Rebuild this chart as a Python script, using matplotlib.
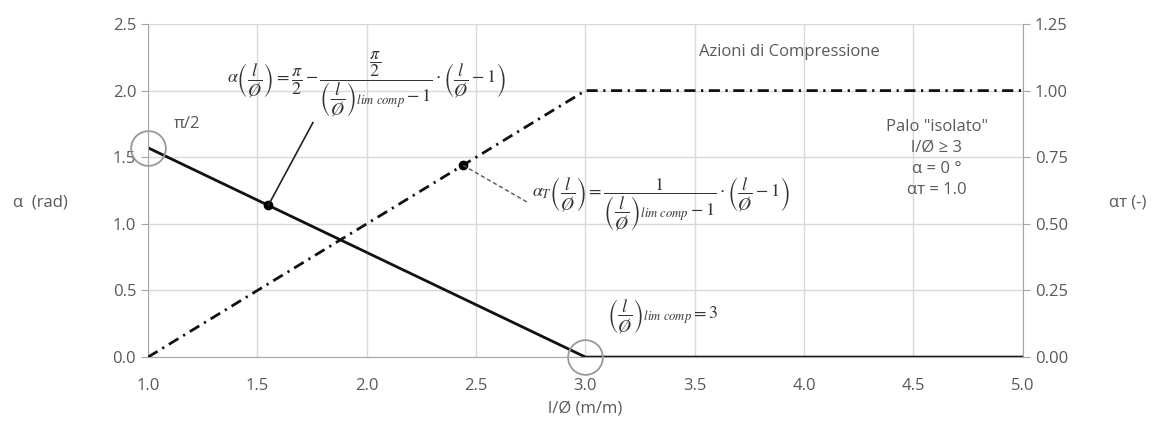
import numpy as np
import matplotlib
matplotlib.use('Agg')
import matplotlib.pyplot as plt

plt.rcParams['font.family'] = ['Open Sans', 'DejaVu Sans']
plt.rcParams['mathtext.fontset'] = 'stix'

# data
x_alpha = [1.0, 3.0, 5.0]
alpha = [np.pi / 2, 0.0, 0.0]
x_alpha_t = [1.0, 3.0, 5.0]
alpha_t = [0.0, 1.0, 1.0]
x_ticks = [1.0, 1.5, 2.0, 2.5, 3.0, 3.5, 4.0, 4.5, 5.0]
y_ticks = [0.0, 0.5, 1.0, 1.5, 2.0, 2.5]
y2_ticks = [0.0, 0.25, 0.5, 0.75, 1.0, 1.25]
pt_alpha = (1.55, np.pi / 2 - np.pi / 4 * 0.55)
pt_alpha_t = (2.44, 0.72)
circles = [(1.0, np.pi / 2), (3.0, 0.0)]

grey = '#595959'
grid = '#d9d9d9'
axis_col = '#a6a6a6'

fig = plt.figure(figsize=(11.61, 4.36), dpi=100)
ax = fig.add_axes([0.1275, 0.181, 0.7535, 0.764])
ax2 = ax.twinx()

ax.set_xlim(1.0, 5.0)
ax.set_ylim(0, 2.5)
ax2.set_ylim(0, 1.25)
ax.set_xticks(x_ticks)
ax.set_xticklabels(['%.1f' % v for v in x_ticks])
ax.set_yticks(y_ticks)
ax.set_yticklabels(['%.1f' % v for v in y_ticks])
ax2.set_yticks(y2_ticks)
ax2.set_yticklabels(['%.2f' % v for v in y2_ticks])
ax.grid(True, color=grid, lw=1)
ax.set_axisbelow(True)

for a in (ax, ax2):
    for s in a.spines.values():
        s.set_visible(False)
    a.tick_params(colors=axis_col, labelcolor=grey, labelsize=12, length=5)
ax.spines['left'].set_visible(True)
ax.spines['left'].set_color(axis_col)
ax.spines['bottom'].set_visible(True)
ax.spines['bottom'].set_color(axis_col)
ax2.spines['right'].set_visible(True)
ax2.spines['right'].set_color(axis_col)
ax.tick_params(axis='x', length=0, pad=15)

ax.plot(x_alpha, alpha, color='#111111', lw=2)
ax2.plot(x_alpha_t, alpha_t, color='#111111', lw=2,
         dashes=(4, 2, 0.8, 2))

ax.plot(*pt_alpha, 'o', color='black', ms=6)
ax2.plot(*pt_alpha_t, 'o', color='black', ms=6)
for cx, cy in circles:
    ax.plot(cx, cy, 'o', mfc='none', mec='#999999', ms=25, mew=1.3,
            clip_on=False)

ax.text(-0.154, 0.465, 'α  (rad)', color=grey, fontsize=12,
        transform=ax.transAxes, ha='left', va='center')
ax.text(1.099, 0.465, 'αт (-)', color=grey, fontsize=12,
        transform=ax.transAxes, ha='left', va='center')
ax.set_xlabel('l/Ø (m/m)', color=grey, fontsize=12, labelpad=5)

ax.text(1.12, 1.72, 'π/2', color=grey, fontsize=12)

f1 = (r'$\alpha\left(\dfrac{l}{Ø}\right)=\dfrac{\pi}{2}-'
      r'\dfrac{\dfrac{\pi}{2}}{\left(\dfrac{l}{Ø}\right)_{lim\ comp}-1}'
      r'\cdot\left(\dfrac{l}{Ø}-1\right)$')
ax.text(2.0, 2.05, f1, fontsize=13, color='#333333', ha='center', va='center')
ax.plot([pt_alpha[0], 1.754], [pt_alpha[1], 1.76], color='#222222', lw=1.2)

f2 = (r'$\alpha_T\left(\dfrac{l}{Ø}\right)=\dfrac{1}{\left(\dfrac{l}{Ø}\right)_{lim\ comp}-1}'
      r'\cdot\left(\dfrac{l}{Ø}-1\right)$')
ax.text(2.755, 1.15, f2, fontsize=13, color='#333333', ha='left', va='center')
ax2.plot([pt_alpha_t[0], 2.737], [pt_alpha_t[1], 0.58], color='#555555',
         lw=1, ls=(0, (3, 2)))

f3 = r'$\left(\dfrac{l}{Ø}\right)_{lim\ comp}=3$'
ax.text(3.10, 0.31, f3, fontsize=13, color='#333333', ha='left', va='center')

ax.text(3.52, 2.29, 'Azioni di Compressione', color=grey, fontsize=12,
        ha='left', va='center')

ax.text(4.607, 1.49, 'Palo "isolato"\nl/Ø ≥ 3\nα = 0 °\nαт = 1.0',
        color=grey, fontsize=12, ha='center', va='center', linespacing=1.42)

fig.savefig('out.png', dpi=100)
